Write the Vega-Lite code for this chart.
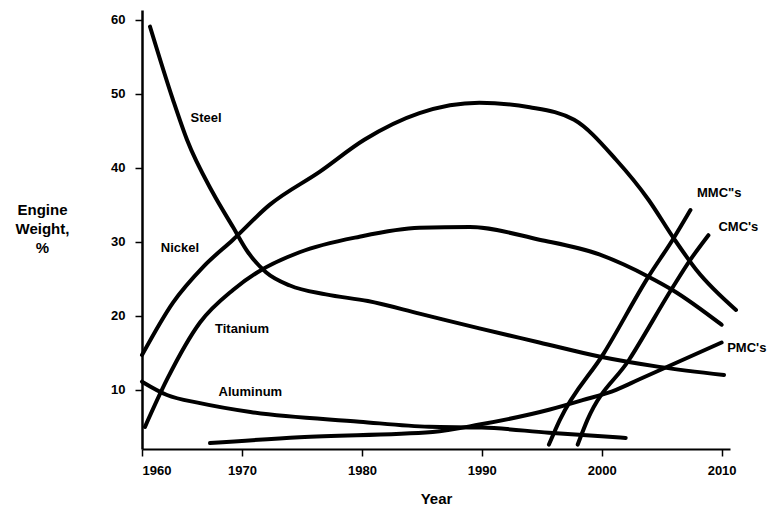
{
  "$schema": "https://vega.github.io/schema/vega-lite/v6.json",
  "autosize": "none",
  "padding": {"left": 142, "top": 10, "right": 41, "bottom": 59},
  "width": 588,
  "height": 439,
  "background": "white",
  "config": {
    "view": {"stroke": null},
    "font": "Liberation Sans",
    "axis": {"grid": false, "domainColor": "black", "tickColor": "black", "labelColor": "black", "titleColor": "black", "labelFont": "Liberation Sans", "titleFont": "Liberation Sans", "labelFontWeight": "bold", "titleFontWeight": "bold"}
  },
  "datasets": {
    "curves": [
      {"m": "Steel", "year": 1960.8, "pct": 59.1},
      {"m": "Steel", "year": 1963.1, "pct": 49.2},
      {"m": "Steel", "year": 1964.5, "pct": 43.8},
      {"m": "Steel", "year": 1967.1, "pct": 36.6},
      {"m": "Steel", "year": 1969.1, "pct": 32.0},
      {"m": "Steel", "year": 1970.5, "pct": 28.6},
      {"m": "Steel", "year": 1972.0, "pct": 25.9},
      {"m": "Steel", "year": 1974.0, "pct": 24.1},
      {"m": "Steel", "year": 1977.0, "pct": 22.9},
      {"m": "Steel", "year": 1980.5, "pct": 22.0},
      {"m": "Steel", "year": 1984.8, "pct": 20.3},
      {"m": "Steel", "year": 1989.8, "pct": 18.3},
      {"m": "Steel", "year": 1994.8, "pct": 16.4},
      {"m": "Steel", "year": 1999.8, "pct": 14.5},
      {"m": "Steel", "year": 2004.8, "pct": 13.1},
      {"m": "Steel", "year": 2010.2, "pct": 12.0},
      {"m": "Nickel", "year": 1960.0, "pct": 14.7},
      {"m": "Nickel", "year": 1963.1, "pct": 21.8},
      {"m": "Nickel", "year": 1966.1, "pct": 26.6},
      {"m": "Nickel", "year": 1969.1, "pct": 30.3},
      {"m": "Nickel", "year": 1972.3, "pct": 35.0},
      {"m": "Nickel", "year": 1976.5, "pct": 39.5},
      {"m": "Nickel", "year": 1980.2, "pct": 43.8},
      {"m": "Nickel", "year": 1984.8, "pct": 47.4},
      {"m": "Nickel", "year": 1989.8, "pct": 48.8},
      {"m": "Nickel", "year": 1994.0, "pct": 48.2},
      {"m": "Nickel", "year": 1997.7, "pct": 46.5},
      {"m": "Nickel", "year": 2001.2, "pct": 41.1},
      {"m": "Nickel", "year": 2003.9, "pct": 35.7},
      {"m": "Nickel", "year": 2006.0, "pct": 30.5},
      {"m": "Nickel", "year": 2007.9, "pct": 26.2},
      {"m": "Nickel", "year": 2011.2, "pct": 20.8},
      {"m": "Titanium", "year": 1960.3, "pct": 5.0},
      {"m": "Titanium", "year": 1962.5, "pct": 11.4},
      {"m": "Titanium", "year": 1965.8, "pct": 19.1},
      {"m": "Titanium", "year": 1969.1, "pct": 23.5},
      {"m": "Titanium", "year": 1971.3, "pct": 25.9},
      {"m": "Titanium", "year": 1974.8, "pct": 28.6},
      {"m": "Titanium", "year": 1979.8, "pct": 30.7},
      {"m": "Titanium", "year": 1984.8, "pct": 31.9},
      {"m": "Titanium", "year": 1989.0, "pct": 32.0},
      {"m": "Titanium", "year": 1994.8, "pct": 30.3},
      {"m": "Titanium", "year": 1999.8, "pct": 28.3},
      {"m": "Titanium", "year": 2003.9, "pct": 25.3},
      {"m": "Titanium", "year": 2005.9, "pct": 23.5},
      {"m": "Titanium", "year": 2010.0, "pct": 18.8},
      {"m": "Aluminum", "year": 1960.0, "pct": 11.1},
      {"m": "Aluminum", "year": 1962.5, "pct": 9.3},
      {"m": "Aluminum", "year": 1965.8, "pct": 8.2},
      {"m": "Aluminum", "year": 1970.7, "pct": 7.0},
      {"m": "Aluminum", "year": 1979.8, "pct": 5.7},
      {"m": "Aluminum", "year": 1985.6, "pct": 5.0},
      {"m": "Aluminum", "year": 1990.0, "pct": 4.9},
      {"m": "Aluminum", "year": 1995.6, "pct": 4.2},
      {"m": "Aluminum", "year": 2002.0, "pct": 3.5},
      {"m": "PMC", "year": 1966.8, "pct": 2.8},
      {"m": "PMC", "year": 1974.8, "pct": 3.6},
      {"m": "PMC", "year": 1985.9, "pct": 4.3},
      {"m": "PMC", "year": 1989.8, "pct": 5.3},
      {"m": "PMC", "year": 1995.6, "pct": 7.3},
      {"m": "PMC", "year": 1998.4, "pct": 8.6},
      {"m": "PMC", "year": 2001.2, "pct": 10.0},
      {"m": "PMC", "year": 2003.1, "pct": 11.4},
      {"m": "PMC", "year": 2010.0, "pct": 16.4},
      {"m": "MMC", "year": 1995.6, "pct": 2.6},
      {"m": "MMC", "year": 1996.5, "pct": 5.9},
      {"m": "MMC", "year": 2000.2, "pct": 15.0},
      {"m": "MMC", "year": 2003.9, "pct": 25.3},
      {"m": "MMC", "year": 2006.0, "pct": 30.5},
      {"m": "MMC", "year": 2007.4, "pct": 34.3},
      {"m": "CMC", "year": 1998.0, "pct": 2.6},
      {"m": "CMC", "year": 1998.8, "pct": 5.9},
      {"m": "CMC", "year": 2002.3, "pct": 14.1},
      {"m": "CMC", "year": 2005.9, "pct": 23.8},
      {"m": "CMC", "year": 2007.4, "pct": 27.6},
      {"m": "CMC", "year": 2008.9, "pct": 30.9}
    ],
    "labels": [
      {"t": "Steel", "year": 1966.4, "pct": 46.8},
      {"t": "Nickel", "year": 1963.8, "pct": 29.2},
      {"t": "Titanium", "year": 1970.0, "pct": 18.2},
      {"t": "Aluminum", "year": 1970.7, "pct": 9.7},
      {"t": "MMC\"s", "year": 2009.8, "pct": 36.6},
      {"t": "CMC's", "year": 2011.4, "pct": 32.0},
      {"t": "PMC's", "year": 2012.1, "pct": 15.7}
    ]
  },
  "layer": [
    {
      "data": {"name": "curves"},
      "mark": {"type": "line", "interpolate": "monotone", "strokeWidth": 4, "color": "black", "strokeCap": "round", "clip": false},
      "encoding": {
        "x": {
          "field": "year", "type": "quantitative",
          "scale": {"domain": [1960, 1970, 2010.7], "range": [0, 100, 588], "nice": false, "zero": false},
          "axis": {
            "values": [1960, 1970, 1980, 1990, 2000, 2010],
            "format": "d",
            "title": "Year",
            "titleFontSize": 15,
            "titlePadding": 14,
            "labelFontSize": 13,
            "labelPadding": 8,
            "tickSize": 7,
            "tickWidth": 1.5,
            "domainWidth": 2
          }
        },
        "y": {
          "field": "pct", "type": "quantitative",
          "scale": {"domain": [2, 61.35], "nice": false, "zero": false},
          "axis": {
            "values": [10, 20, 30, 40, 50, 60],
            "title": ["Engine", "Weight,", "%"],
            "titleAngle": 0,
            "titleAlign": "center",
            "titleBaseline": "top",
            "titleX": -100,
            "titleY": 192,
            "titleFontSize": 15,
            "titleLineHeight": 19,
            "labelFontSize": 13,
            "labelPadding": 10,
            "tickSize": 7,
            "tickWidth": 1.5,
            "domainWidth": 2.5
          }
        },
        "detail": {"field": "m", "type": "nominal"}
      }
    },
    {
      "data": {"name": "labels"},
      "mark": {"type": "text", "font": "Liberation Sans", "fontWeight": "bold", "fontSize": 13, "color": "black", "align": "center", "baseline": "middle", "clip": false},
      "encoding": {
        "x": {"field": "year", "type": "quantitative"},
        "y": {"field": "pct", "type": "quantitative"},
        "text": {"field": "t", "type": "nominal"}
      }
    }
  ]
}
